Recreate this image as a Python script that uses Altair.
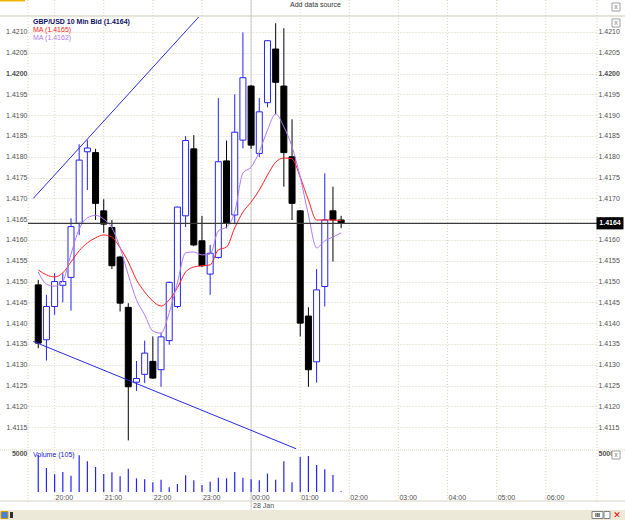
import altair as alt
import pandas as pd

# ---------------- data ----------------
times = ["19:40", "19:50", "20:00", "20:10", "20:20", "20:30", "20:40", "20:50",
         "21:00", "21:10", "21:20", "21:30", "21:40", "21:50",
         "22:00", "22:10", "22:20", "22:30", "22:40", "22:50",
         "23:00", "23:10", "23:20", "23:30", "23:40", "23:50",
         "00:00", "00:10", "00:20", "00:30", "00:40", "00:50",
         "01:00", "01:10", "01:20", "01:30", "01:40", "01:50"]
opens = [1.41492, 1.41360, 1.41440, 1.41491, 1.41510, 1.41640, 1.41812, 1.41810,
         1.41670, 1.41630, 1.41559, 1.41438, 1.41258, 1.41277,
         1.41308, 1.41288, 1.41358, 1.41440, 1.41658, 1.41819,
         1.41598, 1.41518, 1.41558, 1.41790, 1.41660, 1.41840,
         1.41970, 1.41808, 1.41930, 1.42059, 1.41970, 1.41800,
         1.41670, 1.41417, 1.41307, 1.41488, 1.41670, 1.41648]
highs = [1.41504, 1.41468, 1.41520, 1.41520, 1.41652, 1.41830, 1.41840, 1.41819,
         1.41698, 1.41648, 1.41562, 1.41448, 1.41309, 1.41358,
         1.41368, 1.41377, 1.41500, 1.41680, 1.41850, 1.41852,
         1.41658, 1.41588, 1.41941, 1.41839, 1.41950, 1.42099,
         1.41972, 1.41941, 1.42080, 1.42121, 1.42109, 1.41890,
         1.41672, 1.41438, 1.41530, 1.41760, 1.41728, 1.41658]
lows = [1.41340, 1.41310, 1.41420, 1.41450, 1.41430, 1.41612, 1.41720, 1.41648,
        1.41617, 1.41530, 1.41428, 1.41118, 1.41237, 1.41256,
        1.41266, 1.41247, 1.41348, 1.41436, 1.41631, 1.41585,
        1.41535, 1.41468, 1.41555, 1.41628, 1.41640, 1.41820,
        1.41819, 1.41799, 1.41919, 1.41902, 1.41728, 1.41648,
        1.41368, 1.41247, 1.41257, 1.41440, 1.41548, 1.41628]
closes = [1.41352, 1.41440, 1.41500, 1.41500, 1.41632, 1.41792, 1.41821, 1.41688,
          1.41638, 1.41538, 1.41448, 1.41247, 1.41267, 1.41328,
          1.41268, 1.41367, 1.41498, 1.41679, 1.41839, 1.41588,
          1.41538, 1.41568, 1.41788, 1.41640, 1.41859, 1.41990,
          1.41828, 1.41908, 1.42079, 1.41979, 1.41810, 1.41688,
          1.41400, 1.41288, 1.41480, 1.41648, 1.41648, 1.41640]
ma_red = [1.41528, 1.41516, 1.41511, 1.41521, 1.41547, 1.41574, 1.41593, 1.41605,
          1.41612, 1.41607, 1.41581, 1.41547, 1.41504, 1.41475,
          1.41453, 1.41441, 1.41456, 1.41485, 1.41523, 1.41535,
          1.41538, 1.41540, 1.41576, 1.41583, 1.41629, 1.41667,
          1.41691, 1.41720, 1.41756, 1.41787, 1.41797, 1.41795,
          1.41751, 1.41696, 1.41648, 1.41648, 1.41648, 1.41646]
ma_purple = [1.41523, 1.41494, 1.41489, 1.41501, 1.41566, 1.41626, 1.41653, 1.41659,
             1.41650, 1.41629, 1.41581, 1.41516, 1.41456, 1.41420,
             1.41381, 1.41376, 1.41425, 1.41497, 1.41569, 1.41571,
             1.41564, 1.41566, 1.41622, 1.41631, 1.41667, 1.41761,
             1.41775, 1.41812, 1.41864, 1.41903, 1.41872, 1.41824,
             1.41751, 1.41660, 1.41581, 1.41598, 1.41607, 1.41617]
volumes = [4625, 3000, 2210, 2500, 2040, 4590, 3840, 3125, 2250, 2460,
           1960, 2910, 1710, 1590, 1210, 1540, 590, 1000, 2090, 1460,
           875, 1290, 1790, 1710, 2500, 1790, 1590, 1460, 2290, 1540,
           3840, 1210, 4375, 4500, 3375, 2840, 2125, 105]

trend_up_t = ["19:34", "22:56"]
trend_up_p = [1.41700, 1.42136]
trend_dn_t = ["19:34", "00:55"]
trend_dn_p = [1.41356, 1.41098]

last_price = 1.4164
price_ticks = [1.4115, 1.4120, 1.4125, 1.4130, 1.4135, 1.4140, 1.4145, 1.4150,
               1.4155, 1.4160, 1.4165, 1.4170, 1.4175, 1.4180, 1.4185, 1.4190,
               1.4195, 1.4200, 1.4205, 1.4210]
hour_ticks = ["20:00", "21:00", "22:00", "23:00", "00:00", "01:00",
              "02:00", "03:00", "04:00", "05:00", "06:00"]
volume_ticks = [5000]

title_main = "GBP/USD 10 Min Bid (1.4164)"
title_ma1 = "MA (1.4165)"
title_ma2 = "MA (1.4162)"
title_vol = "Volume (105)"
date_label = "28 Jan"


def to_min(s):
    h, m = map(int, s.split(":"))
    if h < 12:
        h += 24
    return h * 60 + m - 19 * 60


# ---------------- tables ----------------
candles = pd.DataFrame({
    "t": [to_min(s) for s in times], "time": times,
    "open": opens, "high": highs, "low": lows, "close": closes,
    "ma1": ma_red, "ma2": ma_purple, "vol": volumes,
})
candles["dir"] = ["up" if c >= o else "down" for o, c in zip(opens, closes)]
hours = pd.DataFrame({"t": [to_min(s) for s in hour_ticks], "label": hour_ticks})
trend = pd.DataFrame({
    "t": [to_min(s) for s in trend_up_t + trend_dn_t],
    "p": trend_up_p + trend_dn_p,
    "line": ["up"] * 2 + ["down"] * 2,
})
one = pd.DataFrame({"a": [0]})

# ---------------- styles ----------------
W, H = 569, 475
FONT = "Liberation Sans"
GRID = "#d9d5bb"
BLUE = "#2424f0"
LABEL = "#505050"

xs = alt.Scale(domain=[33.6, 716.4], nice=False, zero=False)
py = alt.Scale(domain=[1.41095, 1.42136], range=[433, 0], nice=False, zero=False)
vy = alt.Scale(domain=[0, 5250], range=[475, 433], nice=False, zero=True)

bold_cond = alt.condition("abs(datum.value - 1.42) < 0.00001", alt.value("bold"), alt.value("normal"))
lab = dict(labelFont=FONT, labelFontSize=7, labelColor=LABEL, tickSize=0,
           domain=False, labelPadding=1, zindex=0, title=None)
ax_pl = alt.Axis(orient="left", values=price_ticks, format=".4f", grid=True,
                 gridColor=GRID, gridDash=[1, 2], labelFontWeight=bold_cond, **lab)
ax_pr = alt.Axis(orient="right", values=price_ticks, format=".4f", grid=False,
                 labelFontWeight=bold_cond, **lab)
ax_vl = alt.Axis(orient="left", values=volume_ticks, format="d", grid=False,
                 labelFontWeight="bold", labelOffset=1, **lab)
ax_vr = alt.Axis(orient="right", values=volume_ticks, format="d", grid=False,
                 labelFontWeight="bold", labelOffset=1, **lab)

X = alt.X("t:Q", scale=xs, axis=None)
dir_scale_fill = alt.Scale(domain=["up", "down"], range=["white", "black"])
dir_scale_stroke = alt.Scale(domain=["up", "down"], range=[BLUE, "black"])

layers = []

# chrome: header strip, toolbar
layers.append(alt.Chart(one).mark_rect(color="#f0b400").encode(
    x=alt.value(-28), x2=alt.value(-3), y=alt.value(-17), y2=alt.value(-15.5)))
layers.append(alt.Chart(one).mark_rect(color="#ece9d8").encode(
    x=alt.value(-28), x2=alt.value(597), y=alt.value(493), y2=alt.value(503)))

# vertical hour grid, edges, day separator
layers.append(alt.Chart(hours).mark_rule(color=GRID, strokeDash=[1, 2], strokeWidth=1).encode(
    x=X, y=alt.value(-17), y2=alt.value(483)))
for px in (0, W):
    layers.append(alt.Chart(one).mark_rule(color=GRID, strokeDash=[1, 2]).encode(
        x=alt.value(px), y=alt.value(-17), y2=alt.value(486)))
layers.append(alt.Chart(hours[hours["label"] == "00:00"]).mark_rule(color="#c9c9c9").encode(
    x=X, y=alt.value(-17), y2=alt.value(493)))
# header / panel separators, axis base line
layers.append(alt.Chart(one).mark_rule(color="#cfcbb8").encode(
    x=alt.value(-28), x2=alt.value(597), y=alt.value(-1)))
layers.append(alt.Chart(one).mark_rule(color=GRID, strokeDash=[1, 1]).encode(
    x=alt.value(-28), x2=alt.value(597), y=alt.value(433)))
layers.append(alt.Chart(one).mark_rule(color="#d6d2c2").encode(
    x=alt.value(-28), x2=alt.value(597), y=alt.value(484)))

# time labels (left-aligned just right of each hour line)
layers.append(alt.Chart(hours).mark_text(color=LABEL, font=FONT, fontSize=7, align="left",
                                         baseline="middle", dx=1).encode(
    x=X, y=alt.value(480.5), text="label:N"))

# wicks (left price axis), bodies (right price axis)
layers.append(alt.Chart(candles).mark_rule(strokeWidth=1).encode(
    x=X,
    y=alt.Y("low:Q", scale=py, axis=ax_pl),
    y2="high:Q",
    stroke=alt.Stroke("dir:N", scale=dir_scale_stroke, legend=None)))
layers.append(alt.Chart(candles).mark_bar(size=6, strokeWidth=1).encode(
    x=X,
    y=alt.Y("open:Q", scale=py, axis=ax_pr),
    y2="close:Q",
    fill=alt.Fill("dir:N", scale=dir_scale_fill, legend=None),
    stroke=alt.Stroke("dir:N", scale=dir_scale_stroke, legend=None)))

# moving averages
layers.append(alt.Chart(candles).mark_line(color="#ff2020", strokeWidth=1, interpolate="monotone").encode(
    x=X, y=alt.Y("ma1:Q", scale=py, axis=None)))
layers.append(alt.Chart(candles).mark_line(color="#b07af5", strokeWidth=1, interpolate="monotone").encode(
    x=X, y=alt.Y("ma2:Q", scale=py, axis=None)))

# trend lines
layers.append(alt.Chart(trend).mark_line(color="#2a2ae6", strokeWidth=1).encode(
    x=X, y=alt.Y("p:Q", scale=py, axis=None), detail="line:N"))

# last price line + tag
layers.append(alt.Chart(one).mark_rule(color="#3a3a3a", strokeWidth=1.3).encode(
    x=alt.value(0), x2=alt.value(W), y=alt.Y(datum=last_price, scale=py, axis=None)))
layers.append(alt.Chart(one).mark_point(shape="M-1,-0.45H1V0.45H-1Z", size=729, filled=True,
                                        color="black", opacity=1).encode(
    x=alt.value(582), y=alt.Y(datum=last_price, scale=py, axis=None)))
layers.append(alt.Chart(one).mark_text(text=f"{last_price:.4f}", color="white", font=FONT,
                                       fontSize=7, fontWeight="bold", align="center",
                                       baseline="middle").encode(
    x=alt.value(582), y=alt.Y(datum=last_price, scale=py, axis=None)))

# volume (left volume axis), right volume axis
layers.append(alt.Chart(candles).mark_rule(color=BLUE, strokeWidth=1.2).encode(
    x=X,
    y=alt.Y("vol:Q", scale=vy, axis=ax_vl),
    y2=alt.Y2(datum=0)))
layers.append(alt.Chart(candles).mark_rule(opacity=0).encode(
    x=X, y=alt.Y("vol:Q", scale=vy, axis=ax_vr), y2=alt.Y2(datum=0)))

# legend texts
layers.append(alt.Chart(one).mark_text(text=title_main, color="#101060", font=FONT, fontSize=7,
                                       fontWeight="bold", align="left", baseline="middle").encode(
    x=alt.value(5), y=alt.value(4.5)))
layers.append(alt.Chart(one).mark_text(text=title_ma1, color="#ff2020", font=FONT, fontSize=7,
                                       align="left", baseline="middle").encode(
    x=alt.value(5), y=alt.value(13)))
layers.append(alt.Chart(one).mark_text(text=title_ma2, color="#b07af5", font=FONT, fontSize=7,
                                       align="left", baseline="middle").encode(
    x=alt.value(5), y=alt.value(21.3)))
layers.append(alt.Chart(one).mark_text(text=title_vol, color="#2020d0", font=FONT, fontSize=7,
                                       align="left", baseline="middle").encode(
    x=alt.value(5), y=alt.value(438)))
layers.append(alt.Chart(hours[hours["label"] == "00:00"]).mark_text(
    text=date_label, color=LABEL, font=FONT, fontSize=7, align="left", baseline="middle", dx=2).encode(
    x=X, y=alt.value(488.5)))
layers.append(alt.Chart(one).mark_text(text="Add data source", color="#333333", font=FONT, fontSize=7,
                                       align="left", baseline="middle").encode(
    x=alt.value(262), y=alt.value(-12)))

# small close boxes on the right
for (y0, y1) in ((-14, -6), (2, 10), (434, 442)):
    layers.append(alt.Chart(one).mark_rect(fill="white", stroke="#a0a0a0", strokeWidth=1).encode(
        x=alt.value(584), x2=alt.value(592), y=alt.value(y0), y2=alt.value(y1)))
    layers.append(alt.Chart(one).mark_text(text="x", color="#808080", font=FONT, fontSize=7,
                                           align="center", baseline="middle").encode(
        x=alt.value(588), y=alt.value((y0 + y1) / 2)))
# toolbar buttons
layers.append(alt.Chart(one).mark_rect(fill="white", stroke="#808080", strokeWidth=1).encode(
    x=alt.value(564), x2=alt.value(575), y=alt.value(494.5), y2=alt.value(501.5)))
layers.append(alt.Chart(one).mark_text(text="III", color="#202020", font=FONT, fontSize=6,
                                       fontWeight="bold", align="center", baseline="middle").encode(
    x=alt.value(569.5), y=alt.value(498)))
layers.append(alt.Chart(one).mark_rect(fill="white", stroke="#808080", strokeWidth=1).encode(
    x=alt.value(576), x2=alt.value(582), y=alt.value(494.5), y2=alt.value(501.5)))
layers.append(alt.Chart(one).mark_text(text="✕", color="#e00000", font="DejaVu Sans", fontSize=9,
                                       fontWeight="bold", align="center", baseline="middle").encode(
    x=alt.value(589), y=alt.value(498)))
layers.append(alt.Chart(one).mark_rect(fill="#4a7fd4", stroke="#d0a000", strokeWidth=1).encode(
    x=alt.value(-27), x2=alt.value(-20), y=alt.value(494.5), y2=alt.value(501.5)))
layers.append(alt.Chart(one).mark_rect(fill="#303030").encode(
    x=alt.value(-18), x2=alt.value(-15), y=alt.value(495), y2=alt.value(501)))

chart = alt.layer(*layers).resolve_scale(
    y="independent", x="shared", stroke="independent", fill="independent"
).properties(
    width=W, height=H,
    padding={"left": 28, "top": 17, "right": 28, "bottom": 28},
    autosize=alt.AutoSizeParams(type="none"),
    background="white",
).configure(font=FONT).configure_view(strokeWidth=0)

chart.save("out.html", embed_options={"renderer": "svg", "actions": False})
